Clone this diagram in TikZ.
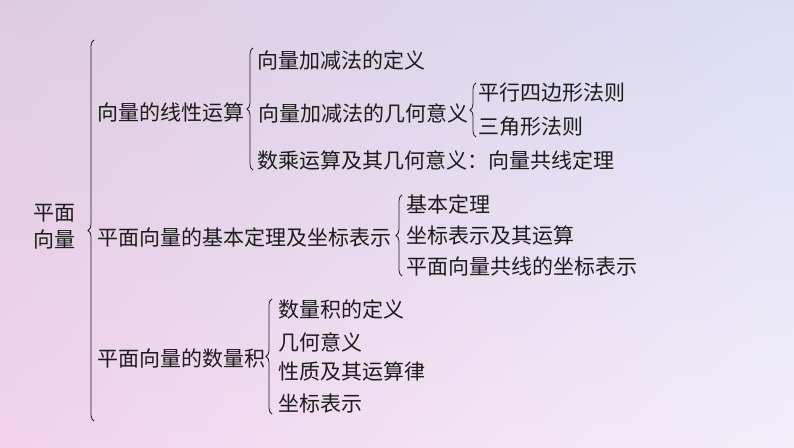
\documentclass[tikz,border=0pt]{standalone}
\usepackage{fontspec}
\setmainfont{Noto Sans CJK SC}
\usepackage{xcolor}
\usepackage{tikz}
\usetikzlibrary{positioning,decorations.pathreplacing,shadings}
\definecolor{bgTL}{HTML}{DDCCE0}
\definecolor{bgTR}{HTML}{DCDDF5}
\definecolor{bgBL}{HTML}{F1D3EC}
\definecolor{bgBR}{HTML}{F2EEF8}
\definecolor{ink}{HTML}{1C1C1C}
\tikzstyle{item}=[anchor=west, inner sep=0pt, text=ink, font=\fontsize{21}{27}\selectfont]
\tikzstyle{brc}=[decorate, decoration={brace, amplitude=6pt}, draw=ink, line width=0.8pt]

\begin{document}
\begin{tikzpicture}[x=1pt, y=1pt]
        % background
        \shade [upper left=bgTL, upper right=bgTR, lower left=bgBL, lower right=bgBR] (0, 0) rectangle (794, 447);
        \useasboundingbox (0, 0) rectangle (794, 447);

        % root and first level
        \node [style=item, align=center] (root) at (33, 220.5) {平面\\向量};
        \node [style=item] (lin) at (97, 334) {向量的线性运算};
        \node [style=item] (bas) at (97, 210) {平面向量的基本定理及坐标表示};
        \node [style=item] (dot) at (97, 88) {平面向量的数量积};

        % linear operations
        \node [style=item] (lin1) at (257, 387) {向量加减法的定义};
        \node [style=item, right=14pt of lin] (lin2) {向量加减法的几何意义};
        \node [style=item] (lin3) at (257, 287) {数乘运算及其几何意义：向量共线定理};
        \node [style=item] (geo1) at (478, 354) {平行四边形法则};
        \node [style=item] (geo2) at (478, 320) {三角形法则};

        % basic theorem
        \node [style=item] (bas1) at (406, 243) {基本定理};
        \node [style=item] (bas2) at (406, 211) {坐标表示及其运算};
        \node [style=item] (bas3) at (406, 181) {平面向量共线的坐标表示};

        % dot product
        \node [style=item] (dot1) at (278, 138) {数量积的定义};
        \node [style=item] (dot2) at (278, 105) {几何意义};
        \node [style=item] (dot3) at (278, 75) {性质及其运算律};
        \node [style=item] (dot4) at (278, 43) {坐标表示};

        % braces
        \draw [style=brc] (94, 26) -- (94, 407);
        \draw [style=brc] (253, 277) -- (253, 399);
        \draw [style=brc] (476, 310) -- (476, 364);
        \draw [style=brc] (402, 171) -- (402, 252);
        \draw [style=brc] (272, 33) -- (272, 148);
\end{tikzpicture}
\end{document}
